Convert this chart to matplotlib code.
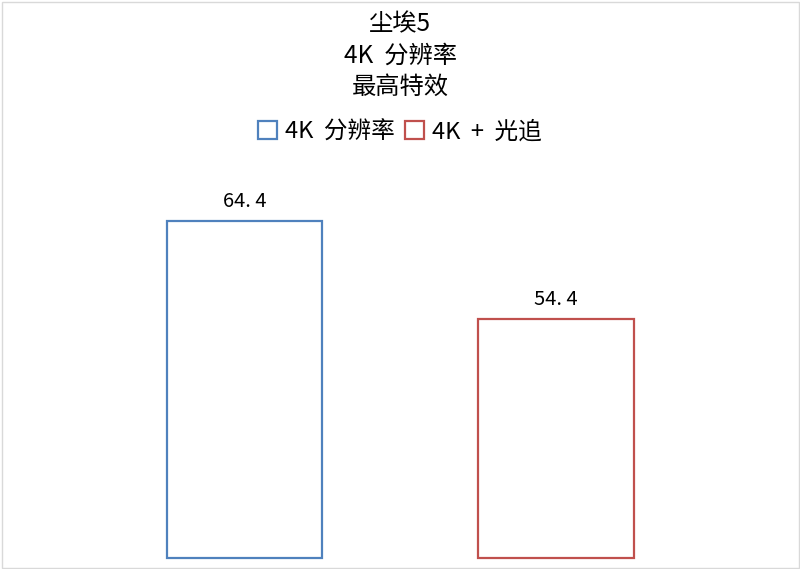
import matplotlib
matplotlib.use("Agg")
import matplotlib.pyplot as plt
from matplotlib.patches import Patch, Rectangle

plt.rcParams['font.family'] = ['Noto Sans CJK SC', 'DejaVu Sans']

title_lines = ["尘埃5", "4K  分辨率", "最高特效"]
categories = ["4K  分辨率", "4K  +  光追"]
values = [64.4, 54.4]
colors = ["#4F81BD", "#C0504D"]
y_min, y_max = 30, 70

fig = plt.figure(figsize=(8.0, 5.69), dpi=100)
fig.patch.set_facecolor("white")

ax = fig.add_axes([88.75 / 800, 11 / 569, 623 / 800, 392 / 569])
x = list(range(len(categories)))
ax.bar(x, [v - y_min for v in values], width=0.5, bottom=y_min, facecolor="white",
       edgecolor=colors, linewidth=1.6, clip_on=False)
ax.set_xlim(-0.5, len(categories) - 0.5)
ax.set_ylim(y_min, y_max)
ax.axis("off")

for xi, v in zip(x, values):
    ax.text(xi, v + 0.9, f"{v:.1f}".replace(".", ". "), ha="center", va="bottom",
            fontsize=14.5, color="#000000")

for line, y in zip(title_lines, [24, 56, 87]):
    fig.text(0.5, 1 - y / 569, line, ha="center", va="center", fontsize=17.5, color="#000000")

handles = [Patch(facecolor="white", edgecolor=c, linewidth=1.6) for c in colors]
fig.legend(handles, categories, loc="center", bbox_to_anchor=(0.5, 1 - 132 / 569),
           ncol=2, frameon=False, fontsize=17, handlelength=0.8, handleheight=0.8,
           handletextpad=0.35, columnspacing=0.45, borderaxespad=0)

fig.patches.append(Rectangle((1.5 / 800, 1.5 / 569), 797 / 800, 566 / 569,
                             transform=fig.transFigure, fill=False,
                             edgecolor="#D9D9D9", linewidth=1))

fig.savefig("out.png", dpi=100, facecolor="white")
